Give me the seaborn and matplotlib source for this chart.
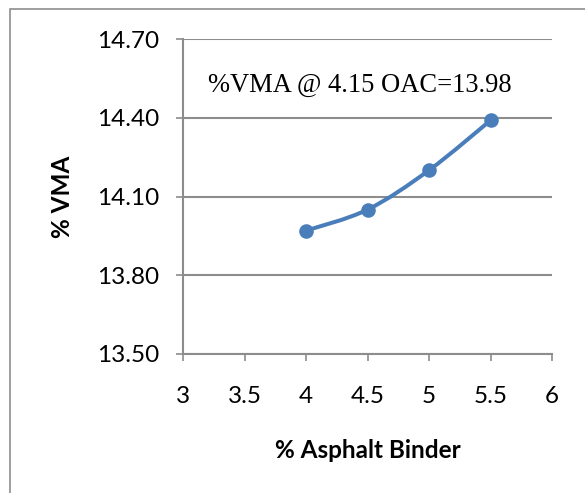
import matplotlib
matplotlib.use("Agg")
import matplotlib.pyplot as plt
import seaborn as sns
import numpy as np
import pandas as pd
from matplotlib.path import Path
from matplotlib.patches import PathPatch, Rectangle

# ---- data ----
binder = [4.0, 4.5, 5.0, 5.5]
vma = [13.97, 14.05, 14.20, 14.39]
x_ticks = [3, 3.5, 4, 4.5, 5, 5.5, 6]
y_ticks = [13.50, 13.80, 14.10, 14.40, 14.70]
y_tick_labels = ["13.50", "13.80", "14.10", "14.40", "14.70"]
x_tick_labels = ["3", "3.5", "4", "4.5", "5", "5.5", "6"]
note_text = "%VMA @ 4.15 OAC=13.98"
x_label = "% Asphalt Binder"
y_label = "% VMA"

BLUE = "#4A7EBB"
GRID = "#8C8C8C"

sns.set_theme(style="white")
plt.rcParams["font.family"] = ["Lato", "DejaVu Sans"]

fig = plt.figure(figsize=(5.85, 4.93), dpi=100)
# outer chart frame
fig.add_artist(Rectangle((10 / 585, -0.1), 1.2, 1 - 9.5 / 493 + 0.1,
                         transform=fig.transFigure, fill=False,
                         edgecolor="#8E8E8E", linewidth=1.2))
ax = fig.add_axes([183 / 585, 1 - 354 / 493, (552 - 183) / 585, (354 - 39) / 493])

df = pd.DataFrame({"binder": binder, "vma": vma})

# smoothed line (Excel-like cubic Bezier through the points)
pts = np.column_stack([binder, vma])
n = len(pts)
verts = [tuple(pts[0])]
codes = [Path.MOVETO]
for i in range(n - 1):
    p0 = pts[i - 1] if i > 0 else pts[i]
    p1 = pts[i]
    p2 = pts[i + 1]
    p3 = pts[i + 2] if i + 2 < n else pts[i + 1]
    c1 = p1 + (p2 - p0) / 6.0
    c2 = p2 - (p3 - p1) / 6.0
    verts += [tuple(c1), tuple(c2), tuple(p2)]
    codes += [Path.CURVE4] * 3
ax.add_patch(PathPatch(Path(verts, codes), facecolor="none", edgecolor=BLUE,
                       linewidth=2.9, capstyle="round", joinstyle="round", zorder=3))

sns.scatterplot(data=df, x="binder", y="vma", ax=ax, color=BLUE, s=110,
                edgecolor=BLUE, linewidth=0, zorder=4, legend=False)

ax.set_xlim(3, 6)
ax.set_ylim(13.50, 14.70)
ax.set_xticks(x_ticks)
ax.set_xticklabels(x_tick_labels)
ax.set_yticks(y_ticks)
ax.set_yticklabels(y_tick_labels)

ax.grid(axis="y", color=GRID, linewidth=1.5)
ax.grid(axis="x", visible=False)
ax.set_axisbelow(True)
for s in ["top", "right"]:
    ax.spines[s].set_visible(False)
for s in ["left", "bottom"]:
    ax.spines[s].set_color(GRID)
    ax.spines[s].set_linewidth(1.5)

ax.tick_params(axis="x", direction="out", length=5, width=1.2, color=GRID,
               labelsize=17.5, pad=18, labelcolor="black", bottom=True)
ax.tick_params(axis="y", direction="out", length=5, width=1.2, color=GRID,
               labelsize=17.5, pad=12, labelcolor="black", left=True)

ax.set_xlabel(x_label, fontsize=17.5, fontweight="bold", color="black")
ax.set_ylabel(y_label, fontsize=17.5, fontweight="bold", color="black")
ax.xaxis.set_label_coords(0.5, (354 - 450) / 315)
ax.xaxis.label.set_va("center")
ax.yaxis.set_label_coords((62 - 183) / 369, 0.5)
ax.yaxis.label.set_va("center")

ax.text(3.2, 14.525, note_text, family=["Liberation Serif", "DejaVu Serif"],
        fontsize=19.1, ha="left", va="center", color="black")

fig.savefig("out.png", dpi=100)
